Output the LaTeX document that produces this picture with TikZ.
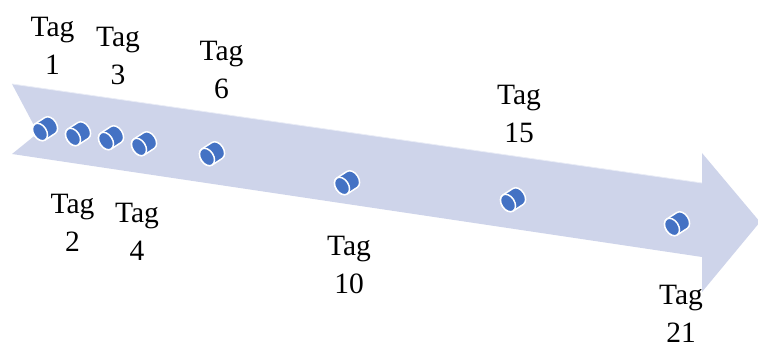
\documentclass[tikz,border=0pt]{standalone}
\usepackage{fontspec}
\setmainfont{Liberation Serif}
\definecolor{arrowfill}{RGB}{206,212,234}
\definecolor{canblue}{RGB}{68,114,196}
\begin{document}
\begin{tikzpicture}[x=1pt,y=-1pt,
  tag/.style={font=\fontsize{29.5}{38}\selectfont, align=center, anchor=base, inner sep=0pt},
  can/.pic={
    \path[fill=canblue, draw=white, line width=1.5pt] (0,-9.5) -- (12,-9.5)
      arc[start angle=-90,end angle=90,x radius=6.5,y radius=9.5] -- (0,9.5)
      arc[start angle=90,end angle=270,x radius=6.5,y radius=9.5] -- cycle;
    \path[fill=canblue, draw=white, line width=1.5pt] (0,0) ellipse[x radius=6.5, y radius=9.5];
  }]
\useasboundingbox (0,0) rectangle (758,347);
\clip (0,0) rectangle (758,347);
\fill[arrowfill] (12,84) -- (702,183) -- (702,153) -- (760,222) -- (702,292) -- (702,257) -- (12,154) -- (38,133) -- cycle;
\draw[white!55!arrowfill, line width=0.8pt] (12,84) -- (702,183);
\foreach \p in {(40,132),(73,137),(106,141),(139,147),(207,157),(342,186),(508,203),(672,227)}
  \pic[rotate=33] at \p {can};
\node[tag] (t1) at (52.5,75) {Tag\\1};
\node[tag] (t3) at (118,85) {Tag\\3};
\node[tag] (t6) at (221.5,98.5) {Tag\\6};
\node[tag] (t15) at (519,143) {Tag\\15};
\node[tag] (t2) at (72.5,252) {Tag\\2};
\node[tag] (t4) at (137,261) {Tag\\4};
\node[tag] (t10) at (349,294) {Tag\\10};
\node[tag] (t21) at (681,343) {Tag\\21};
\end{tikzpicture}
\end{document}
